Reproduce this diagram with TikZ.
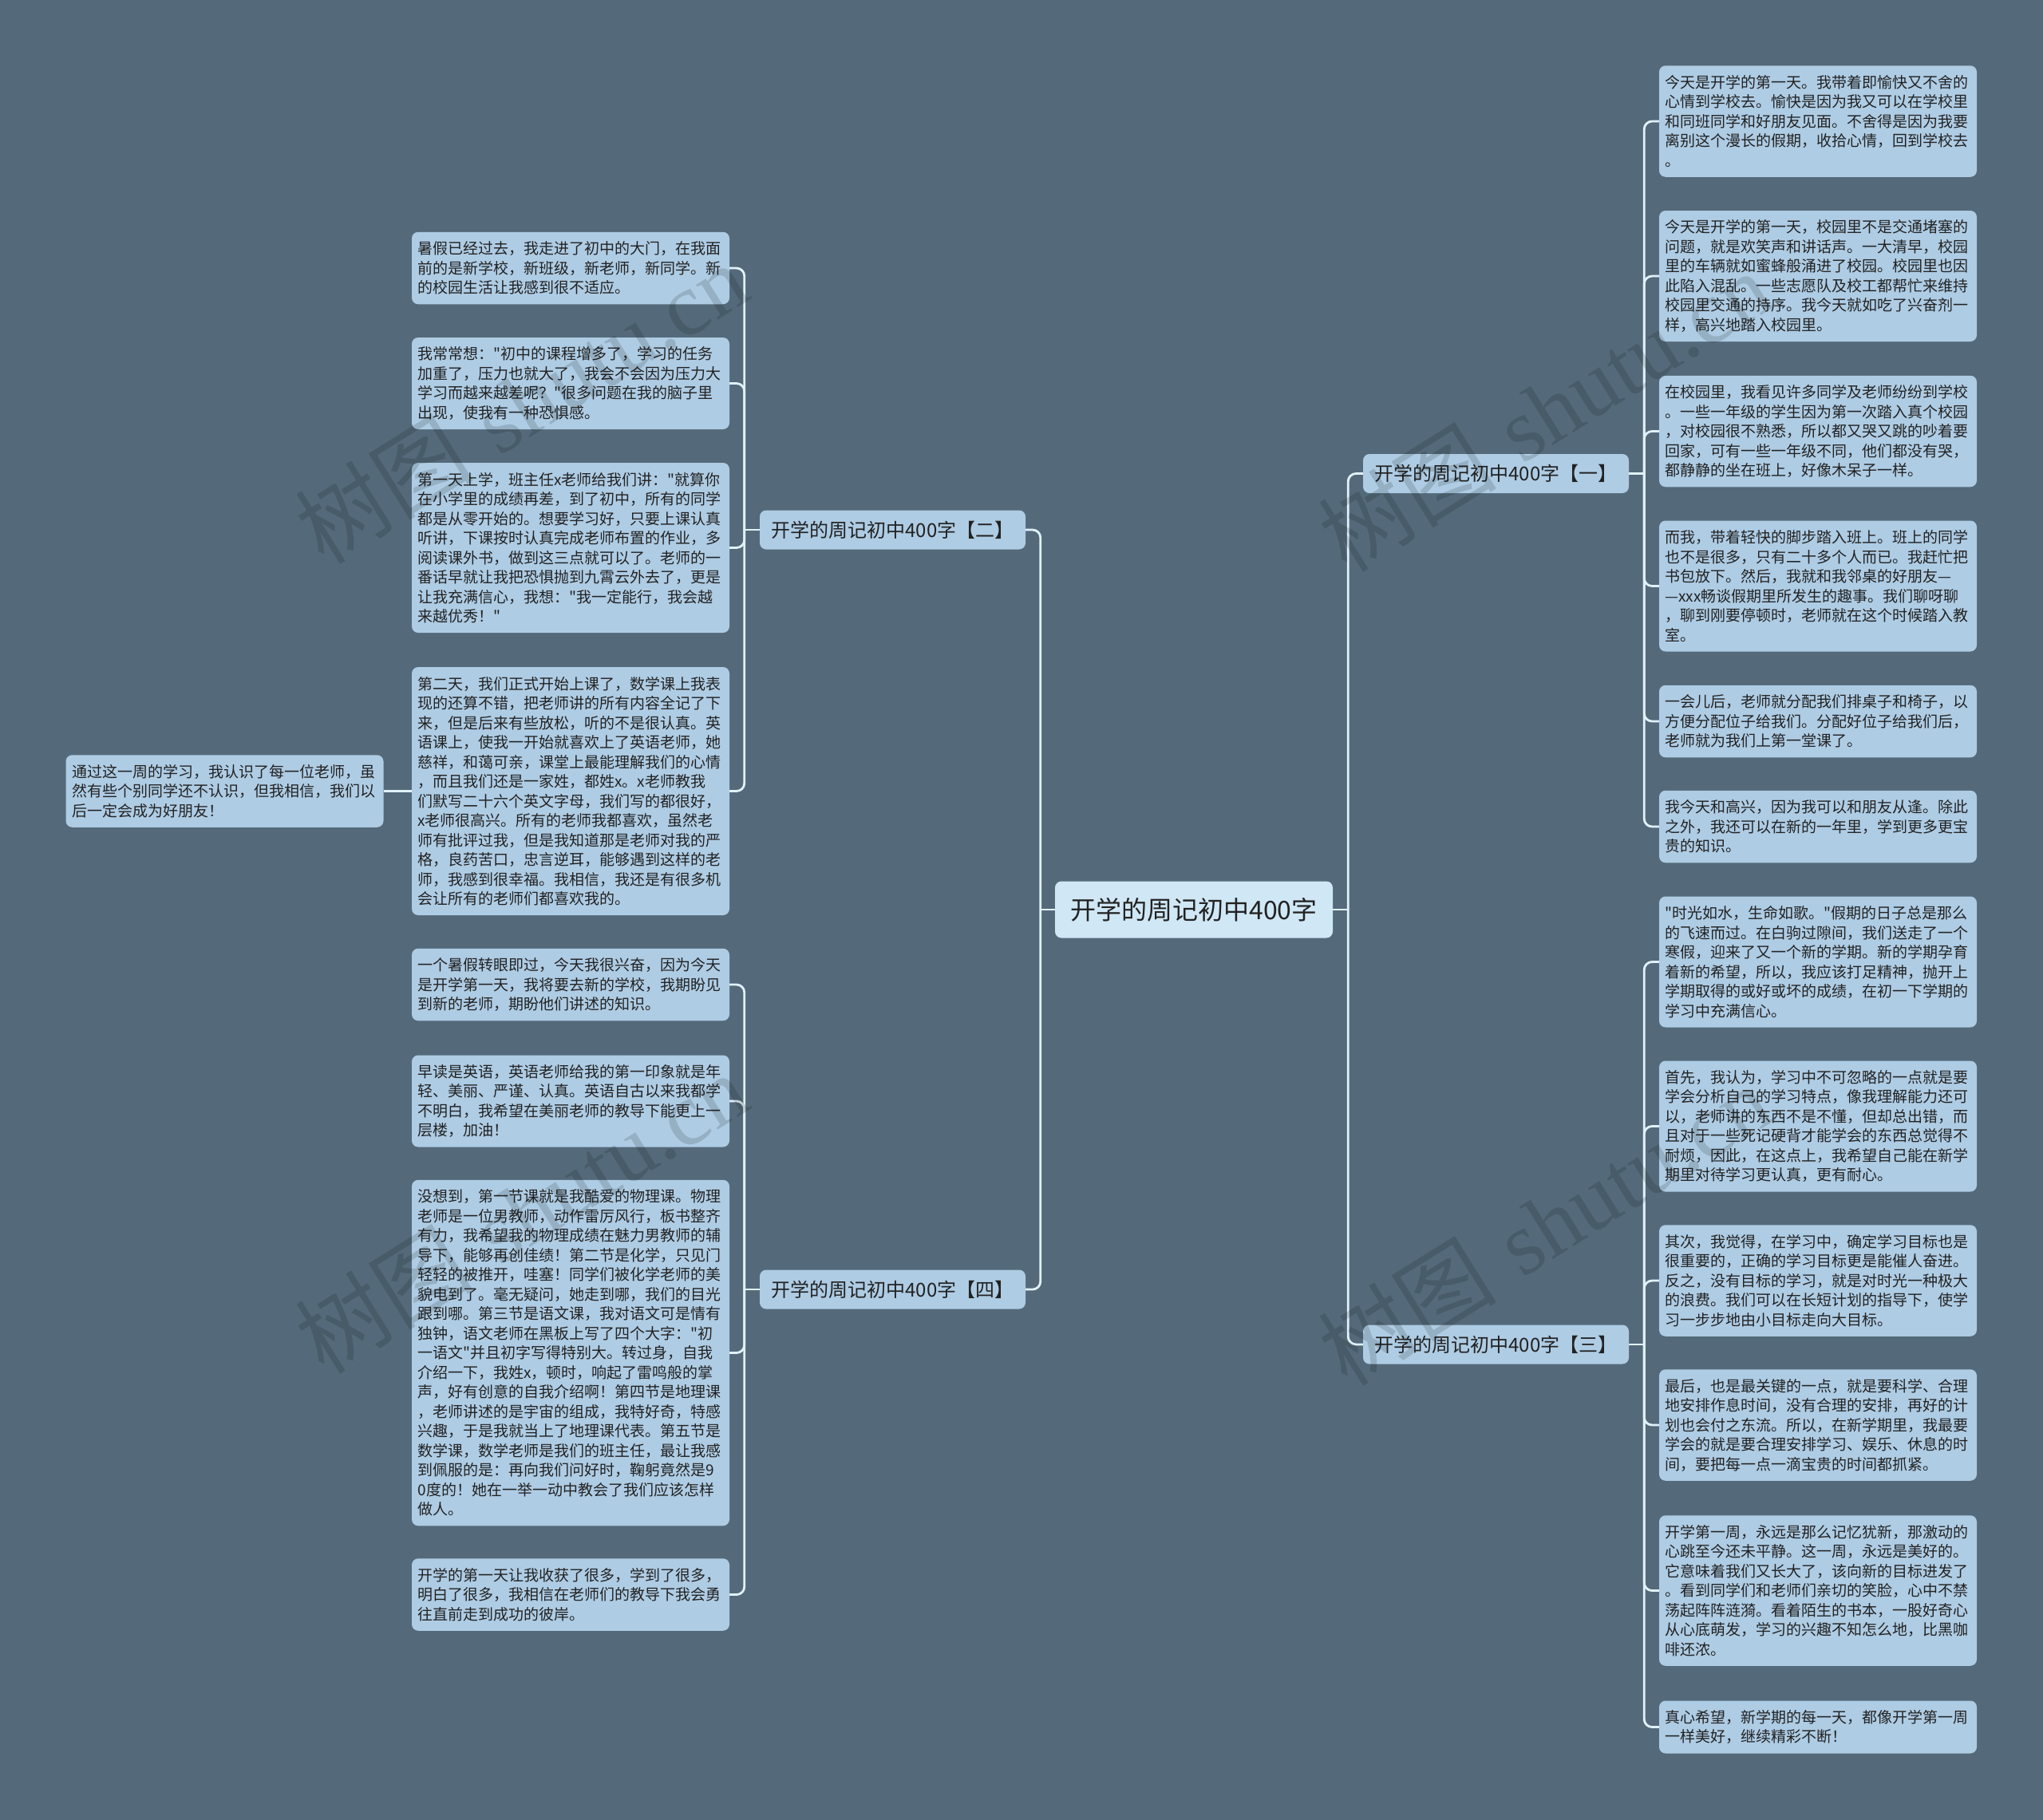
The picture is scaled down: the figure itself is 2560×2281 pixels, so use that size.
\documentclass[tikz,border=0pt]{standalone}
\usepackage{fontspec}
\newfontfamily\cjk{Noto Sans CJK SC}
\newfontfamily\wmserif{Liberation Serif}
\definecolor{bgc}{HTML}{546A7A}
\definecolor{leaffill}{HTML}{AECCE4}
\definecolor{rootfill}{HTML}{D0E7F5}
\definecolor{linkc}{HTML}{E0F1FA}
\definecolor{txtc}{HTML}{222222}
\begin{document}
\begin{tikzpicture}[x=1pt,y=-1pt,
  leaf/.style={fill=leaffill, rounded corners=8pt, text width=383pt, inner xsep=7.5pt, inner ysep=2pt,
    align=left, font=\cjk\fontsize{19}{24.5}\selectfont, text=txtc, minimum height={24.5*#1+17}, anchor=center},
  branch/.style={fill=leaffill, rounded corners=8pt, minimum width=333pt, minimum height=49pt, inner sep=0pt,
    font=\cjk\fontsize{24}{28}\selectfont, text=txtc},
  rootnode/.style={fill=rootfill, rounded corners=8pt, minimum width=348pt, minimum height=71pt, inner sep=0pt,
    font=\cjk\fontsize{32}{36}\selectfont, text=txtc},
  link/.style={draw=linkc, line width=2.8pt},
  rlink/.style={draw=linkc, line width=2.8pt, rounded corners=10pt},
  wmark/.style={rotate=32, opacity=0.14, text=black, font=\fontsize{112}{112}\selectfont}
]
\fill[bgc] (0,0) rectangle (2560,2281);
\useasboundingbox (0,0) rectangle (2560,2281);

% root and branches
\node[rootnode] (root) at (1496,1140) {开学的周记初中400字};
\node[branch] (b2) at (1118.5,664) {开学的周记初中400字【二】};
\node[branch] (b4) at (1118.5,1616) {开学的周记初中400字【四】};
\node[branch] (b1) at (1874.5,593.5) {开学的周记初中400字【一】};
\node[branch] (b3) at (1874.5,1685) {开学的周记初中400字【三】};

% left group two
\node[leaf=3] (l1) at (715,336) {暑假已经过去，我走进了初中的大门，在我面\\前的是新学校，新班级，新老师，新同学。新\\的校园生活让我感到很不适应。};
\node[leaf=4] (l2) at (715,480.5) {我常常想："初中的课程增多了，学习的任务\\加重了，压力也就大了，我会不会因为压力大\\学习而越来越差呢？"很多问题在我的脑子里\\出现，使我有一种恐惧感。};
\node[leaf=8] (l3) at (715,686.5) {第一天上学，班主任x老师给我们讲："就算你\\在小学里的成绩再差，到了初中，所有的同学\\都是从零开始的。想要学习好，只要上课认真\\听讲，下课按时认真完成老师布置的作业，多\\阅读课外书，做到这三点就可以了。老师的一\\番话早就让我把恐惧抛到九霄云外去了，更是\\让我充满信心，我想："我一定能行，我会越\\来越优秀！"};
\node[leaf=12] (l4) at (715,991.5) {第二天，我们正式开始上课了，数学课上我表\\现的还算不错，把老师讲的所有内容全记了下\\来，但是后来有些放松，听的不是很认真。英\\语课上，使我一开始就喜欢上了英语老师，她\\慈祥，和蔼可亲，课堂上最能理解我们的心情\\，而且我们还是一家姓，都姓x。x老师教我\\们默写二十六个英文字母，我们写的都很好，\\x老师很高兴。所有的老师我都喜欢，虽然老\\师有批评过我，但是我知道那是老师对我的严\\格，良药苦口，忠言逆耳，能够遇到这样的老\\师，我感到很幸福。我相信，我还是有很多机\\会让所有的老师们都喜欢我的。};
\node[leaf=3] (l4c) at (281.5,991.5) {通过这一周的学习，我认识了每一位老师，虽\\然有些个别同学还不认识，但我相信，我们以\\后一定会成为好朋友！};

% left group four
\node[leaf=3] (m1) at (715,1234) {一个暑假转眼即过，今天我很兴奋，因为今天\\是开学第一天，我将要去新的学校，我期盼见\\到新的老师，期盼他们讲述的知识。};
\node[leaf=4] (m2) at (715,1380) {早读是英语，英语老师给我的第一印象就是年\\轻、美丽、严谨、认真。英语自古以来我都学\\不明白，我希望在美丽老师的教导下能更上一\\层楼，加油！};
\node[leaf=17] (m3) at (715,1695.5) {没想到，第一节课就是我酷爱的物理课。物理\\老师是一位男教师，动作雷厉风行，板书整齐\\有力，我希望我的物理成绩在魅力男教师的辅\\导下，能够再创佳绩！第二节是化学，只见门\\轻轻的被推开，哇塞！同学们被化学老师的美\\貌电到了。毫无疑问，她走到哪，我们的目光\\跟到哪。第三节是语文课，我对语文可是情有\\独钟，语文老师在黑板上写了四个大字："初\\一语文"并且初字写得特别大。转过身，自我\\介绍一下，我姓x，顿时，响起了雷鸣般的掌\\声，好有创意的自我介绍啊！第四节是地理课\\，老师讲述的是宇宙的组成，我特好奇，特感\\兴趣，于是我就当上了地理课代表。第五节是\\数学课，数学老师是我们的班主任，最让我感\\到佩服的是：再向我们问好时，鞠躬竟然是9\\0度的！她在一举一动中教会了我们应该怎样\\做人。};
\node[leaf=3] (m4) at (715,1998.5) {开学的第一天让我收获了很多，学到了很多，\\明白了很多，我相信在老师们的教导下我会勇\\往直前走到成功的彼岸。};

% right group one
\node[leaf=5] (r1) at (2278,152) {今天是开学的第一天。我带着即愉快又不舍的\\心情到学校去。愉快是因为我又可以在学校里\\和同班同学和好朋友见面。不舍得是因为我要\\离别这个漫长的假期，收拾心情，回到学校去\\。};
\node[leaf=6] (r2) at (2278,346) {今天是开学的第一天，校园里不是交通堵塞的\\问题，就是欢笑声和讲话声。一大清早，校园\\里的车辆就如蜜蜂般涌进了校园。校园里也因\\此陷入混乱。一些志愿队及校工都帮忙来维持\\校园里交通的持序。我今天就如吃了兴奋剂一\\样，高兴地踏入校园里。};
\node[leaf=5] (r3) at (2278,540.5) {在校园里，我看见许多同学及老师纷纷到学校\\。一些一年级的学生因为第一次踏入真个校园\\，对校园很不熟悉，所以都又哭又跳的吵着要\\回家，可有一些一年级不同，他们都没有哭，\\都静静的坐在班上，好像木呆子一样。};
\node[leaf=6] (r4) at (2278,734.5) {而我，带着轻快的脚步踏入班上。班上的同学\\也不是很多，只有二十多个人而已。我赶忙把\\书包放下。然后，我就和我邻桌的好朋友—\\—xxx畅谈假期里所发生的趣事。我们聊呀聊\\，聊到刚要停顿时，老师就在这个时候踏入教\\室。};
\node[leaf=3] (r5) at (2278,904) {一会儿后，老师就分配我们排桌子和椅子，以\\方便分配位子给我们。分配好位子给我们后，\\老师就为我们上第一堂课了。};
\node[leaf=3] (r6) at (2278,1036) {我今天和高兴，因为我可以和朋友从逢。除此\\之外，我还可以在新的一年里，学到更多更宝\\贵的知识。};

% right group three
\node[leaf=6] (s1) at (2278,1205.5) {"时光如水，生命如歌。"假期的日子总是那么\\的飞速而过。在白驹过隙间，我们送走了一个\\寒假，迎来了又一个新的学期。新的学期孕育\\着新的希望，所以，我应该打足精神，抛开上\\学期取得的或好或坏的成绩，在初一下学期的\\学习中充满信心。};
\node[leaf=6] (s2) at (2278,1411.5) {首先，我认为，学习中不可忽略的一点就是要\\学会分析自己的学习特点，像我理解能力还可\\以，老师讲的东西不是不懂，但却总出错，而\\且对于一些死记硬背才能学会的东西总觉得不\\耐烦，因此，在这点上，我希望自己能在新学\\期里对待学习更认真，更有耐心。};
\node[leaf=5] (s3) at (2278,1605) {其次，我觉得，在学习中，确定学习目标也是\\很重要的，正确的学习目标更是能催人奋进。\\反之，没有目标的学习，就是对时光一种极大\\的浪费。我们可以在长短计划的指导下，使学\\习一步步地由小目标走向大目标。};
\node[leaf=5] (s4) at (2278,1786) {最后，也是最关键的一点，就是要科学、合理\\地安排作息时间，没有合理的安排，再好的计\\划也会付之东流。所以，在新学期里，我最要\\学会的就是要合理安排学习、娱乐、休息的时\\间，要把每一点一滴宝贵的时间都抓紧。};
\node[leaf=7] (s5) at (2278,1993.5) {开学第一周，永远是那么记忆犹新，那激动的\\心跳至今还未平静。这一周，永远是美好的。\\它意味着我们又长大了，该向新的目标进发了\\。看到同学们和老师们亲切的笑脸，心中不禁\\荡起阵阵涟漪。看着陌生的书本，一股好奇心\\从心底萌发，学习的兴趣不知怎么地，比黑咖\\啡还浓。};
\node[leaf=2] (s6) at (2278,2164.5) {真心希望，新学期的每一天，都像开学第一周\\一样美好，继续精彩不断！};

% spine coordinates
\coordinate (spL) at ([xshift=-18pt]root.west);
\coordinate (spR) at ([xshift=19pt]root.east);
\coordinate (sp2) at ([xshift=-19pt]b2.west);
\coordinate (sp4) at ([xshift=-19pt]b4.west);
\coordinate (sp1) at ([xshift=19pt]b1.east);
\coordinate (sp3) at ([xshift=19pt]b3.east);

% connectors
\draw[link] (root.west) -- (spL);
\draw[rlink] (spL) |- (b2.east);
\draw[rlink] (spL) |- (b4.east);
\draw[link] (root.east) -- (spR);
\draw[rlink] (spR) |- (b1.west);
\draw[rlink] (spR) |- (b3.west);

\draw[link] (b2.west) -- (sp2);
\foreach \n in {l1,l2,l3,l4} \draw[rlink] (sp2) |- (\n.east);
\draw[link] (l4.west) -- (l4c.east);
\draw[link] (b4.west) -- (sp4);
\foreach \n in {m1,m2,m3,m4} \draw[rlink] (sp4) |- (\n.east);
\draw[link] (b1.east) -- (sp1);
\foreach \n in {r1,r2,r3,r4,r5,r6} \draw[rlink] (sp1) |- (\n.west);
\draw[link] (b3.east) -- (sp3);
\foreach \n in {s1,s2,s3,s4,s5,s6} \draw[rlink] (sp3) |- (\n.west);

% watermarks
\node[wmark] (wm1) at (653,505) {{\cjk 树图} {\wmserif shutu.cn}};
\node[wmark] (wm2) at (1935,515) {{\cjk 树图} {\wmserif shutu.cn}};
\node[wmark] (wm3) at (653,1520) {{\cjk 树图} {\wmserif shutu.cn}};
\node[wmark] (wm4) at (1935,1535) {{\cjk 树图} {\wmserif shutu.cn}};
\end{tikzpicture}
\end{document}
